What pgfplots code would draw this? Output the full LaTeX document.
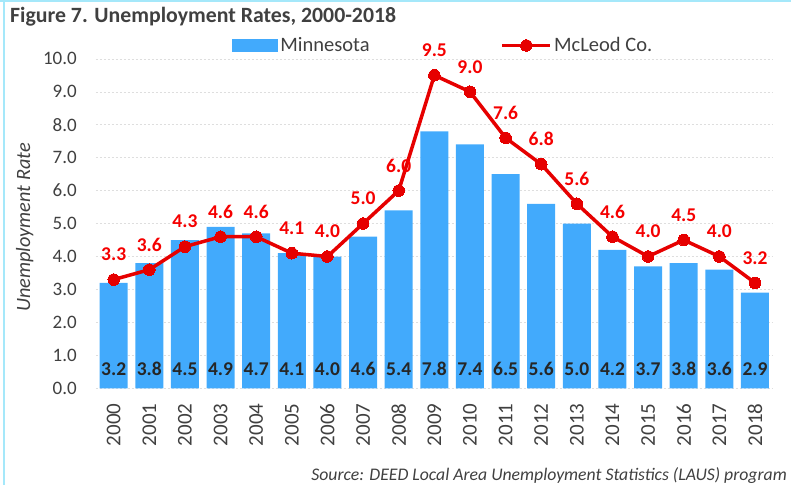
\documentclass[border=0pt]{standalone}
\usepackage{fontspec}
\setmainfont{Carlito}
\usepackage{pgfplots}
\usepackage{pgfplotstable}
\pgfplotsset{compat=1.18}

\definecolor{mnblue}{RGB}{66,170,252}
\definecolor{mcred}{RGB}{230,0,0}
\definecolor{lblred}{RGB}{245,0,0}
\definecolor{txt}{RGB}{64,64,64}
\definecolor{framecol}{RGB}{165,232,250}

\pgfplotsset{
  barlegend/.style={legend image code/.code={\fill[##1] (0pt,-6.5pt) rectangle (46pt,6.5pt);}},
  linelegend/.style={legend image code/.code={\draw[mark repeat=2, mark phase=2, ##1] plot coordinates {(0pt,0pt) (24pt,0pt) (48pt,0pt)};}},
}

% annual unemployment rates, Minnesota (mn) and McLeod County (mc)
\pgfplotstableread{
x  year mn  mc
0  2000 3.2 3.3
1  2001 3.8 3.6
2  2002 4.5 4.3
3  2003 4.9 4.6
4  2004 4.7 4.6
5  2005 4.1 4.1
6  2006 4.0 4.0
7  2007 4.6 5.0
8  2008 5.4 6.0
9  2009 7.8 9.5
10 2010 7.4 9.0
11 2011 6.5 7.6
12 2012 5.6 6.8
13 2013 5.0 5.6
14 2014 4.2 4.6
15 2015 3.7 4.0
16 2016 3.8 4.5
17 2017 3.6 4.0
18 2018 2.9 3.2
}\rates

\begin{document}
\begin{tikzpicture}[x=1pt,y=1pt]
\path[use as bounding box] (0,0) rectangle (791,485);
\fill[framecol] (0,483) rectangle (791,485);
\fill[framecol] (3,0) rectangle (5,485);

\node[anchor=base west, text=txt, inner sep=0pt, font=\fontsize{21.8}{25}\selectfont\bfseries]
  at (10,462) {Figure 7. Unemployment Rates, 2000-2018};
\node[anchor=base east, text=txt, inner sep=0pt, font=\fontsize{17.7}{20}\selectfont\itshape]
  at (787,5) {Source: DEED Local Area Unemployment Statistics (LAUS) program};

\begin{axis}[
  at={(95.9pt,96.7pt)}, anchor=south west,
  scale only axis,
  width=676.9pt, height=329.5pt,
  xmin=-0.5, xmax=18.5,
  ymin=0, ymax=10,
  ytick={0,1,...,10},
  xtick=data,
  xticklabels from table={\rates}{year},
  axis line style={draw=none},
  major tick length=0pt,
  ymajorgrids=true,
  major grid style={draw=black!13, dash pattern=on 2pt off 2pt},
  clip=false,
  /pgf/number format/assume math mode=true,
  tick label style={text=txt, inner sep=0pt},
  yticklabel style={font=\fontsize{19}{22}\selectfont,
    /pgf/number format/fixed, /pgf/number format/fixed zerofill, /pgf/number format/precision=1},
  xticklabel style={font=\fontsize{21}{24}\selectfont, rotate=90, anchor=east},
  yticklabel shift=19pt,
  xticklabel shift=15pt,
  ylabel={Unemployment Rate},
  every axis y label/.style={at={(axis description cs:-0.105,0.488)}, rotate=90, anchor=center,
    font=\fontsize{20.3}{23}\selectfont\itshape, text=txt},
  legend columns=2,
  legend style={at={(axis description cs:0.2014,1.0404)}, anchor=west, draw=none, fill=none,
    inner sep=0pt, font=\fontsize{20.5}{23}\selectfont, text=txt,
    nodes={inner sep=2pt},
    /tikz/every even column/.append style={column sep=129pt}},
]

\addplot[ybar, bar width=28pt, fill=mnblue, draw=none, barlegend]
  table[x=x, y=mn] {\rates};
\addlegendentry{Minnesota}

% red value labels, drawn under the line
\addplot[forget plot, draw=none, mark=none,
  nodes near coords={\pgfmathprintnumber[fixed,fixed zerofill,precision=1]{\pgfplotspointmeta}},
  point meta=explicit,
  every node near coord/.append style={anchor=center, yshift=25pt, inner sep=0pt,
    text=lblred, font=\fontsize{19.5}{22}\selectfont\bfseries}]
  table[x=x, y=mc, meta=mc] {\rates};

\addplot[mcred, line width=3.5pt, mark=*, mark size=5.8pt,
  mark options={solid, fill=mcred, draw=mcred, line width=0pt}, linelegend]
  table[x=x, y=mc] {\rates};
\addlegendentry{McLeod Co.}

% Minnesota labels at the foot of each bar
\addplot[forget plot, draw=none, mark=none,
  nodes near coords={\pgfmathprintnumber[fixed,fixed zerofill,precision=1]{\pgfplotspointmeta}},
  point meta=explicit,
  every node near coord/.append style={anchor=center, inner sep=0pt,
    text=black!85, font=\fontsize{19.5}{22}\selectfont\bfseries}]
  table[x=x, y expr=0.59, meta=mn] {\rates};

\end{axis}
\end{tikzpicture}
\end{document}
